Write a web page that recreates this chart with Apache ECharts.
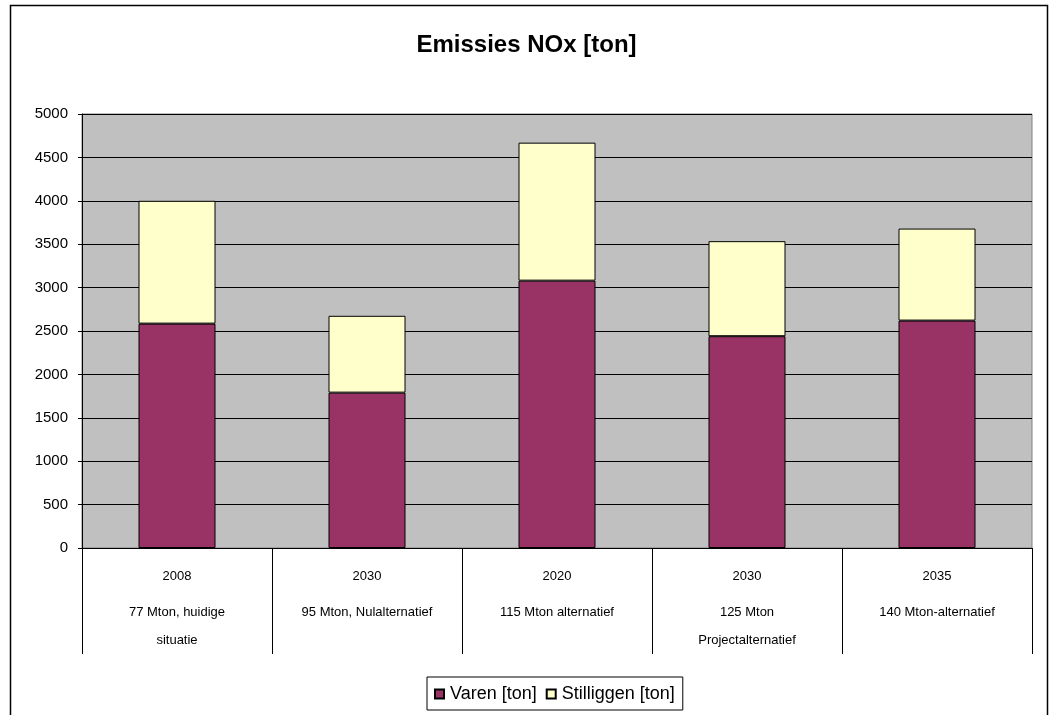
<!DOCTYPE html>
<html>
<head>
<meta charset="utf-8">
<title>Emissies NOx [ton]</title>
<script src="https://cdn.jsdelivr.net/npm/echarts@6/dist/echarts.min.js"></script>
<style>
  html, body { margin: 0; padding: 0; background: #fff; }
  #chart { width: 1053px; height: 715px; }
</style>
</head>
<body>
<div id="chart"></div>
<script>
// Scenario years and descriptions (two label rows under each bar)
const years = ['2008', '2030', '2020', '2030', '2035'];
const scenarios = [
  '77 Mton, huidige\nsituatie',
  '95 Mton, Nulalternatief',
  '115 Mton alternatief',
  '125 Mton\nProjectalternatief',
  '140 Mton-alternatief'
];
// NOx emissions in tonnes
const varen = [2585, 1790, 3080, 2440, 2620];
const stilliggen = [1415, 885, 1590, 1095, 1060];
const yTicks = { min: 0, max: 5000, interval: 500 };

const categories = years.map((y, i) => y + '|' + scenarios[i]);

const chart = echarts.init(document.getElementById('chart'), null, { renderer: 'canvas' });

const baseFont = "'Liberation Sans', Arial, sans-serif";

chart.setOption({
  backgroundColor: '#ffffff',
  animation: false,
  title: {
    text: 'Emissies NOx [ton]',
    left: 'center',
    top: 28,
    textStyle: { fontFamily: baseFont, fontSize: 24, fontWeight: 'bold', color: '#000' }
  },
  graphic: [{
    type: 'rect',
    shape: { x: 10.5, y: 5.5, width: 1037, height: 720 },
    style: { fill: 'none', stroke: '#000', lineWidth: 1.5 },
    silent: true,
    z: -1
  }],
  legend: {
    left: 427,
    top: 677,
    data: ['Varen [ton]', 'Stilliggen [ton]'],
    icon: 'rect',
    itemWidth: 9,
    itemHeight: 9,
    itemGap: 9,
    padding: [8, 8, 7, 7],
    borderColor: '#000',
    borderWidth: 1,
    backgroundColor: '#fff',
    borderRadius: 0,
    textStyle: { fontFamily: baseFont, fontSize: 18, color: '#000', padding: [0, 0, 0, 1] }
  },
  grid: {
    left: 82,
    right: 21,
    top: 114,
    bottom: 167,
    show: true,
    backgroundColor: '#C0C0C0',
    borderColor: '#808080',
    borderWidth: 1
  },
  xAxis: {
    type: 'category',
    data: categories,
    axisLine: { lineStyle: { color: '#000', width: 1 } },
    axisTick: { show: true, interval: 0, length: 106, lineStyle: { color: '#000', width: 1 } },
    axisLabel: {
      interval: 0,
      margin: 6,
      color: '#000',
      fontFamily: baseFont,
      formatter: function (value) {
        const parts = value.split('|');
        const lines = parts[1].split('\n').map(l => '{t|' + l + '}');
        return ['{y|' + parts[0] + '}'].concat(lines).join('\n');
      },
      rich: {
        y: { fontFamily: baseFont, fontSize: 13, lineHeight: 44, color: '#000' },
        t: { fontFamily: baseFont, fontSize: 13, lineHeight: 28, color: '#000' }
      }
    }
  },
  yAxis: {
    type: 'value',
    min: yTicks.min,
    max: yTicks.max,
    interval: yTicks.interval,
    axisLine: { show: true, lineStyle: { color: '#000', width: 1 } },
    axisTick: { show: true, length: 4, lineStyle: { color: '#000' } },
    axisLabel: {
      fontFamily: baseFont,
      fontSize: 15,
      color: '#000',
      margin: 14,
      formatter: v => String(v)
    },
    splitLine: { show: true, lineStyle: { color: '#000', width: 1 } }
  },
  series: [
    {
      name: 'Varen [ton]',
      type: 'bar',
      stack: 'nox',
      barWidth: 77,
      data: varen,
      itemStyle: { color: '#993366', borderColor: '#000', borderWidth: 1 }
    },
    {
      name: 'Stilliggen [ton]',
      type: 'bar',
      stack: 'nox',
      barWidth: 77,
      data: stilliggen,
      itemStyle: { color: '#FFFFCC', borderColor: '#000', borderWidth: 1 }
    }
  ]
});
</script>
</body>
</html>
